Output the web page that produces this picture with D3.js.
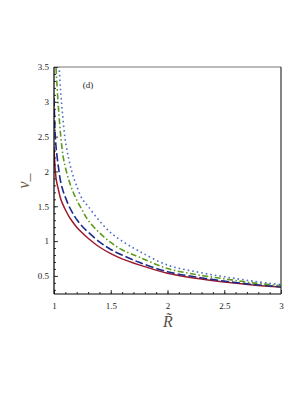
<!DOCTYPE html>
<html><head><meta charset="utf-8">
<script src="https://cdn.jsdelivr.net/npm/d3@7"></script>
<style>body{margin:0;background:#fff}svg{display:block}</style>
</head><body>
<svg id="c" width="305" height="395"></svg>
<script>
const R = [1, 1.01, 1.02, 1.04, 1.06, 1.08, 1.1, 1.13, 1.16, 1.2, 1.25, 1.3, 1.4, 1.5, 1.6, 1.75, 2, 2.25, 2.5, 2.75, 3];
const solidRed = [2.35, 2.04, 1.88, 1.73, 1.60, 1.52, 1.45, 1.36, 1.285, 1.20, 1.115, 1.04, 0.915, 0.82, 0.745, 0.658, 0.538, 0.465, 0.412, 0.37, 0.34];
const dashedBlue = [3.05, 2.55, 2.32, 2.05, 1.84, 1.72, 1.63, 1.51, 1.415, 1.31, 1.21, 1.13, 0.99, 0.88, 0.80, 0.695, 0.56, 0.485, 0.425, 0.378, 0.343];
const dashDotGreen = [4.2, 3.8, 3.42, 2.9, 2.5, 2.22, 2.06, 1.88, 1.74, 1.59, 1.44, 1.30, 1.12, 0.98, 0.875, 0.77, 0.605, 0.52, 0.458, 0.40, 0.36];
const dottedBlue = [5.5, 4.9, 4.35, 3.65, 3.12, 2.74, 2.44, 2.18, 1.98, 1.79, 1.60, 1.50, 1.29, 1.12, 1.0, 0.855, 0.655, 0.56, 0.488, 0.425, 0.375];
const xTicks = [1, 1.5, 2, 2.5, 3];
const xTickLabels = ["1", "1.5", "2", "2.5", "3"];
const yTicks = [0.5, 1, 1.5, 2, 2.5, 3, 3.5];
const yTickLabels = ["0.5", "1", "1.5", "2", "2.5", "3", "3.5"];
const panelLabel = "(d)";
const xLabel = "R\u0303";
const yLabel = "v_";

const svg = d3.select("#c");
const L = 54, Rt = 281, T = 67, B = 294;
const x = d3.scaleLinear().domain([1, 3]).range([L, Rt]);
const y = d3.scaleLinear().domain([0.24, 3.5]).range([B, T]);

svg.append("defs").append("clipPath").attr("id", "clip")
  .append("rect").attr("x", L).attr("y", T).attr("width", Rt - L).attr("height", B - T);

const series = [
  {v: solidRed, color: "#9b1b2b", dash: null, w: 1.5},
  {v: dashedBlue, color: "#1c2a8c", dash: "8,3", w: 1.6},
  {v: dashDotGreen, color: "#5e9a1c", dash: "6,2.5,1.5,2.5", w: 1.6},
  {v: dottedBlue, color: "#4f6fc8", dash: "1.6,3", w: 1.6}
];
const line = d3.line().curve(d3.curveCatmullRom.alpha(0.5));
const g = svg.append("g").attr("clip-path", "url(#clip)");
series.forEach(s => {
  g.append("path")
    .attr("d", line(R.map((r, i) => [x(r), y(s.v[i])])))
    .attr("fill", "none").attr("stroke", s.color).attr("stroke-width", s.w)
    .attr("stroke-dasharray", s.dash);
});

// frame
svg.append("line").attr("x1", L).attr("x2", Rt).attr("y1", T).attr("y2", T).attr("stroke", "#777").attr("stroke-width", 1.2);
svg.append("line").attr("x1", Rt).attr("x2", Rt).attr("y1", T).attr("y2", B).attr("stroke", "#333").attr("stroke-width", 1.2);

const font = "'Liberation Serif', 'DejaVu Serif', serif";
// minor ticks
const xMinor = d3.range(1, 3.001, 0.1);
const yMinor = d3.range(0.3, 3.501, 0.1);
svg.append("g").attr("transform", `translate(0,${B})`)
  .call(d3.axisBottom(x).tickValues(xMinor).tickSize(-2).tickFormat(""))
  .call(a => a.select(".domain").remove());
svg.append("g").attr("transform", `translate(${L},0)`)
  .call(d3.axisLeft(y).tickValues(yMinor).tickSize(-2).tickFormat(""))
  .call(a => a.select(".domain").remove());

const xa = svg.append("g").attr("transform", `translate(0,${B})`)
  .call(d3.axisBottom(x).tickValues(xTicks).tickSize(-4).tickPadding(9).tickFormat((d, i) => xTickLabels[i]));
xa.select(".domain").attr("d", `M${L},0H${Rt}`).attr("stroke", "#000").attr("stroke-width", 1.2);
xa.selectAll("text").attr("font-family", font).attr("font-size", 9).attr("fill", "#222");

const ya = svg.append("g").attr("transform", `translate(${L},0)`)
  .call(d3.axisLeft(y).tickValues(yTicks).tickSize(-4).tickPadding(5).tickFormat((d, i) => yTickLabels[i]));
ya.select(".domain").attr("d", `M0,${T}V${B}`).attr("stroke", "#000").attr("stroke-width", 1.2);
ya.selectAll("text").attr("font-family", font).attr("font-size", 9).attr("fill", "#222");
svg.selectAll(".tick line").attr("stroke", "#333");

svg.append("text").attr("x", 88).attr("y", 88).attr("text-anchor", "middle")
  .attr("font-family", font).attr("font-size", 9).attr("fill", "#222").text(panelLabel);

svg.append("text").attr("x", 168).attr("y", 327).attr("text-anchor", "middle")
  .attr("font-family", font).attr("font-style", "italic").attr("font-size", 16).attr("fill", "#5a5048").text(xLabel);

svg.append("text").attr("transform", "translate(29,181) rotate(-90)").attr("text-anchor", "middle")
  .attr("font-family", font).attr("font-style", "italic").attr("font-size", 16).attr("fill", "#7a6248").text(yLabel);
</script>
</body></html>
